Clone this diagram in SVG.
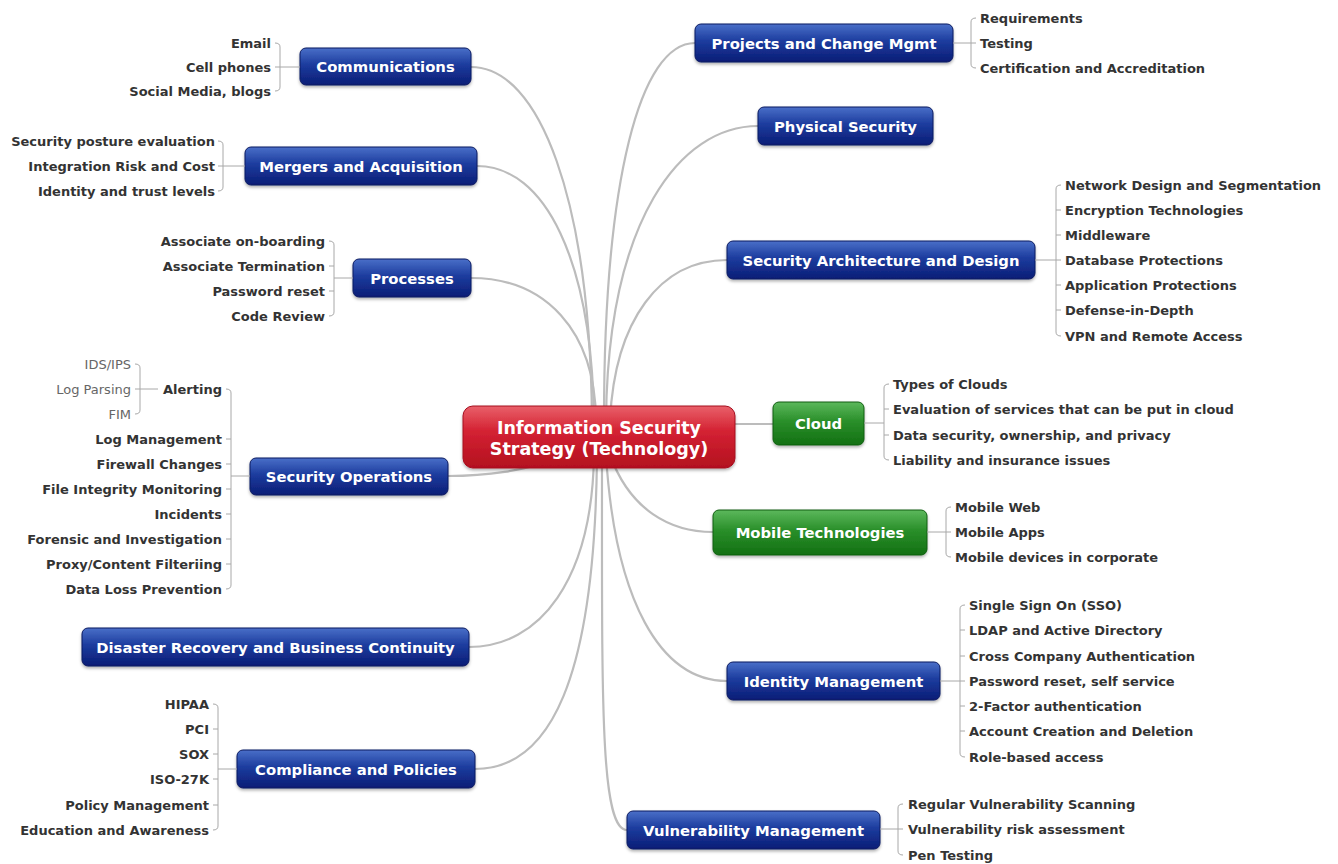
<svg xmlns="http://www.w3.org/2000/svg" width="1338" height="864" viewBox="0 0 1338 864">
  <defs>
    <linearGradient id="gBlue" x1="0" y1="0" x2="0" y2="1">
      <stop offset="0" stop-color="#4a6fc8"/>
      <stop offset="0.45" stop-color="#1c3c9e"/>
      <stop offset="1" stop-color="#0b1d76"/>
    </linearGradient>
    <linearGradient id="gRed" x1="0" y1="0" x2="0" y2="1">
      <stop offset="0" stop-color="#e9606a"/>
      <stop offset="0.4" stop-color="#d42233"/>
      <stop offset="1" stop-color="#b3101f"/>
    </linearGradient>
    <linearGradient id="gGreen" x1="0" y1="0" x2="0" y2="1">
      <stop offset="0" stop-color="#5cb85c"/>
      <stop offset="0.45" stop-color="#2a8f2a"/>
      <stop offset="1" stop-color="#137013"/>
    </linearGradient>
    <filter id="shadow" x="-10%" y="-20%" width="120%" height="160%">
      <feDropShadow dx="0" dy="2" stdDeviation="1.5" flood-color="#000" flood-opacity="0.3"/>
    </filter>
  </defs>
  <style>
    .blue { fill: url(#gBlue); stroke: #0a1a60; stroke-width: 1; }
    .red { fill: url(#gRed); stroke: #a50f1e; stroke-width: 1; }
    .green { fill: url(#gGreen); stroke: #0e5e0e; stroke-width: 1; }
    .nt { font-family: "DejaVu Sans", Verdana, sans-serif; font-weight: bold; font-size: 14.8px; fill: #ffffff; text-anchor: middle; }
    .ct { font-family: "DejaVu Sans", Verdana, sans-serif; font-weight: bold; font-size: 17.5px; fill: #ffffff; text-anchor: middle; }
    .lf { font-family: "DejaVu Sans", Verdana, sans-serif; font-weight: bold; font-size: 13px; fill: #333333; }
    .sub { font-family: "DejaVu Sans", Verdana, sans-serif; font-size: 13px; fill: #666666; }
    .L { text-anchor: end; }
    .R { text-anchor: start; }
    .br { fill: none; stroke: #a8a8a8; stroke-width: 1; }
    .cn { fill: none; stroke: #bcbcbc; stroke-width: 2.2; }
  </style>
  <rect width="1338" height="864" fill="#ffffff"/>

  <!-- curved links from the central topic to each main topic -->
  <g id="connectors">
    <path class="cn" d="M592,420 C590,200 540,67 471,67"/>
    <path class="cn" d="M594,420 C592,260 545,166 477,166"/>
    <path class="cn" d="M596,420 C595,330 545,278 471,278"/>
    <path class="cn" d="M604,420 C604,180 640,43 695,43"/>
    <path class="cn" d="M606,420 C608,220 680,126 758,126"/>
    <path class="cn" d="M610,420 C615,320 660,260 727,260"/>
    <path class="cn" d="M700,424 L773,424"/>
    <path class="cn" d="M560,455 C530,472 480,476 448,476"/>
    <path class="cn" d="M594,455 C592,580 540,647 469,647"/>
    <path class="cn" d="M597,455 C595,680 550,769 475,769"/>
    <path class="cn" d="M602,455 C602,700 600,830 627,830"/>
    <path class="cn" d="M606,455 C615,600 660,681 727,681"/>
    <path class="cn" d="M610,455 C630,510 670,532 713,532"/>
  </g>

  <!-- central topic -->
  <g id="center">
    <rect class="red" x="463" y="406" width="272" height="62" rx="10" filter="url(#shadow)"/>
    <text class="ct" x="599" y="434">Information Security</text>
    <text class="ct" x="599" y="455">Strategy (Technology)</text>
  </g>

  <!-- left side -->
  <g id="communications">
    <rect class="blue" x="300" y="48" width="171" height="37" rx="6" filter="url(#shadow)"/>
    <text class="nt" x="385.5" y="72">Communications</text>
    <path class="br" d="M300,67 H280 M275,43 Q280,43 280,47 V87 Q280,91 275,91 M275,67 H280"/>
    <text class="lf L" x="271" y="47.5">Email</text>
    <text class="lf L" x="271" y="71.5">Cell phones</text>
    <text class="lf L" x="271" y="95.5">Social Media, blogs</text>
  </g>

  <g id="mergers">
    <rect class="blue" x="245" y="147" width="232" height="38" rx="6" filter="url(#shadow)"/>
    <text class="nt" x="361" y="171.5">Mergers and Acquisition</text>
    <path class="br" d="M245,166 H223 M218,141 Q223,141 223,145 V187 Q223,191 218,191 M218,166 H223"/>
    <text class="lf L" x="215" y="145.5">Security posture evaluation</text>
    <text class="lf L" x="215" y="170.5">Integration Risk and Cost</text>
    <text class="lf L" x="215" y="195.5">Identity and trust levels</text>
  </g>

  <g id="processes">
    <rect class="blue" x="353" y="259" width="118" height="38" rx="6" filter="url(#shadow)"/>
    <text class="nt" x="412" y="283.5">Processes</text>
    <path class="br" d="M353,278 H334 M329,241 Q334,241 334,245 V312 Q334,316 329,316 M329,266 H334 M329,291 H334"/>
    <text class="lf L" x="325" y="245.5">Associate on-boarding</text>
    <text class="lf L" x="325" y="270.5">Associate Termination</text>
    <text class="lf L" x="325" y="295.5">Password reset</text>
    <text class="lf L" x="325" y="320.5">Code Review</text>
  </g>

  <g id="security-operations">
    <rect class="blue" x="250" y="458" width="198" height="37" rx="6" filter="url(#shadow)"/>
    <text class="nt" x="349" y="481.5">Security Operations</text>
    <path class="br" d="M250,476 H231 M226,389 Q231,389 231,393 V585 Q231,589 226,589 M226,439 H231 M226,464 H231 M226,489 H231 M226,514 H231 M226,539 H231 M226,564 H231"/>
    <text class="lf L" x="222" y="393.5">Alerting</text>
    <text class="lf L" x="222" y="443.5">Log Management</text>
    <text class="lf L" x="222" y="468.5">Firewall Changes</text>
    <text class="lf L" x="222" y="493.5">File Integrity Monitoring</text>
    <text class="lf L" x="222" y="518.5">Incidents</text>
    <text class="lf L" x="222" y="543.5">Forensic and Investigation</text>
    <text class="lf L" x="222" y="568.5">Proxy/Content Filteriing</text>
    <text class="lf L" x="222" y="593.5">Data Loss Prevention</text>
    <path class="br" d="M158,389 H140 M135,364 Q140,364 140,368 V410 Q140,414 135,414 M135,389 H140"/>
    <text class="sub L" x="131" y="368.5">IDS/IPS</text>
    <text class="sub L" x="131" y="393.5">Log Parsing</text>
    <text class="sub L" x="131" y="418.5">FIM</text>
  </g>

  <g id="disaster-recovery">
    <rect class="blue" x="82" y="628" width="387" height="38" rx="6" filter="url(#shadow)"/>
    <text class="nt" x="275.5" y="652.5">Disaster Recovery and Business Continuity</text>
  </g>

  <g id="compliance">
    <rect class="blue" x="237" y="750" width="238" height="38" rx="6" filter="url(#shadow)"/>
    <text class="nt" x="356" y="774.5">Compliance and Policies</text>
    <path class="br" d="M237,769 H218 M213,704 Q218,704 218,708 V826 Q218,830 213,830 M213,729 H218 M213,754 H218 M213,779 H218 M213,805 H218"/>
    <text class="lf L" x="209" y="708.5">HIPAA</text>
    <text class="lf L" x="209" y="733.5">PCI</text>
    <text class="lf L" x="209" y="758.5">SOX</text>
    <text class="lf L" x="209" y="783.5">ISO-27K</text>
    <text class="lf L" x="209" y="809.5">Policy Management</text>
    <text class="lf L" x="209" y="834.5">Education and Awareness</text>
  </g>

  <!-- right side -->
  <g id="projects">
    <rect class="blue" x="695" y="24" width="258" height="38" rx="6" filter="url(#shadow)"/>
    <text class="nt" x="824" y="48.5">Projects and Change Mgmt</text>
    <path class="br" d="M953,43 H971 M976,18 Q971,18 971,22 V64 Q971,68 976,68 M971,43 H976"/>
    <text class="lf R" x="980" y="22.5">Requirements</text>
    <text class="lf R" x="980" y="47.5">Testing</text>
    <text class="lf R" x="980" y="72.5">Certification and Accreditation</text>
  </g>

  <g id="physical-security">
    <rect class="blue" x="758" y="107" width="175" height="38" rx="6" filter="url(#shadow)"/>
    <text class="nt" x="845.5" y="131.5">Physical Security</text>
  </g>

  <g id="security-architecture">
    <rect class="blue" x="727" y="241" width="308" height="38" rx="6" filter="url(#shadow)"/>
    <text class="nt" x="881" y="265.5">Security Architecture and Design</text>
    <path class="br" d="M1035,260 H1056 M1061,185 Q1056,185 1056,189 V332 Q1056,336 1061,336 M1056,210 H1061 M1056,235 H1061 M1056,260 H1061 M1056,285 H1061 M1056,310 H1061"/>
    <text class="lf R" x="1065" y="189.5">Network Design and Segmentation</text>
    <text class="lf R" x="1065" y="214.5">Encryption Technologies</text>
    <text class="lf R" x="1065" y="239.5">Middleware</text>
    <text class="lf R" x="1065" y="264.5">Database Protections</text>
    <text class="lf R" x="1065" y="289.5">Application Protections</text>
    <text class="lf R" x="1065" y="314.5">Defense-in-Depth</text>
    <text class="lf R" x="1065" y="340.5">VPN and Remote Access</text>
  </g>

  <g id="cloud">
    <rect class="green" x="773" y="402" width="91" height="43" rx="6" filter="url(#shadow)"/>
    <text class="nt" x="818.5" y="429">Cloud</text>
    <path class="br" d="M864,423 H884 M889,384 Q884,384 884,388 V456 Q884,460 889,460 M884,409 H889 M884,435 H889"/>
    <text class="lf R" x="893" y="388.5">Types of Clouds</text>
    <text class="lf R" x="893" y="413.5">Evaluation of services that can be put in cloud</text>
    <text class="lf R" x="893" y="439.5">Data security, ownership, and privacy</text>
    <text class="lf R" x="893" y="464.5">Liability and insurance issues</text>
  </g>

  <g id="mobile">
    <rect class="green" x="713" y="510" width="214" height="45" rx="6" filter="url(#shadow)"/>
    <text class="nt" x="820" y="537.5">Mobile Technologies</text>
    <path class="br" d="M927,532 H946 M951,507 Q946,507 946,511 V553 Q946,557 951,557 M946,532 H951"/>
    <text class="lf R" x="955" y="511.5">Mobile Web</text>
    <text class="lf R" x="955" y="536.5">Mobile Apps</text>
    <text class="lf R" x="955" y="561.5">Mobile devices in corporate</text>
  </g>

  <g id="identity">
    <rect class="blue" x="727" y="662" width="213" height="38" rx="6" filter="url(#shadow)"/>
    <text class="nt" x="833.5" y="686.5">Identity Management</text>
    <path class="br" d="M940,681 H960 M965,605 Q960,605 960,609 V753 Q960,757 965,757 M960,630 H965 M960,656 H965 M960,681 H965 M960,706 H965 M960,731 H965"/>
    <text class="lf R" x="969" y="609.5">Single Sign On (SSO)</text>
    <text class="lf R" x="969" y="634.5">LDAP and Active Directory</text>
    <text class="lf R" x="969" y="660.5">Cross Company Authentication</text>
    <text class="lf R" x="969" y="685.5">Password reset, self service</text>
    <text class="lf R" x="969" y="710.5">2-Factor authentication</text>
    <text class="lf R" x="969" y="735.5">Account Creation and Deletion</text>
    <text class="lf R" x="969" y="761.5">Role-based access</text>
  </g>

  <g id="vulnerability">
    <rect class="blue" x="627" y="811" width="253" height="38" rx="6" filter="url(#shadow)"/>
    <text class="nt" x="753.5" y="835.5">Vulnerability Management</text>
    <path class="br" d="M880,829 H898 M903,804 Q898,804 898,808 V851 Q898,855 903,855 M898,829 H903"/>
    <text class="lf R" x="908" y="808.5">Regular Vulnerability Scanning</text>
    <text class="lf R" x="908" y="833.5">Vulnerability risk assessment</text>
    <text class="lf R" x="908" y="859.5">Pen Testing</text>
  </g>
</svg>
